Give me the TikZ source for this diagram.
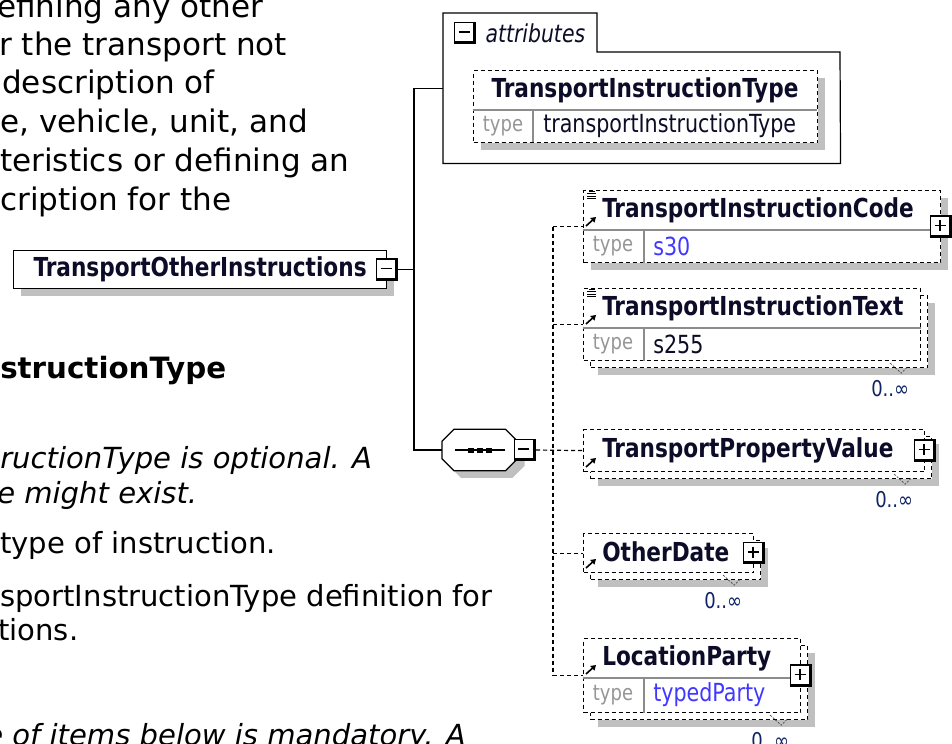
\documentclass[tikz,border=0pt]{standalone}
\usepackage{fontspec}
\setmainfont{DejaVu Sans}
\newfontfamily\schemafont[FakeStretch=0.92]{DejaVu Sans Condensed}
\usepackage{tikz}
\usetikzlibrary{arrows.meta, shadows, positioning}
\definecolor{encreNom}{RGB}{12, 12, 40}
\definecolor{encreType}{RGB}{150, 150, 150}
\definecolor{bleuType}{RGB}{64, 56, 255}
\definecolor{encreCard}{RGB}{16, 36, 100}
\definecolor{gris}{RGB}{192, 192, 192}
\definecolor{sepGris}{RGB}{140, 140, 140}
\newlength\pix
\setlength\pix{0.75pt}
\tikzset{
  lien/.style={draw=black, line width=0.9pt},
  lienopt/.style={lien, dash pattern=on 3pt off 2.25pt},
  ombrage/.style={drop shadow={shadow xshift=#1\pix, shadow yshift=-#1\pix, fill=gris, opacity=1}},
  ombrage/.default=7,
  boite/.style={draw=black, fill=white, line width=0.9pt, inner sep=0pt, anchor=north west, ombrage},
  boiteopt/.style={boite, dash pattern=on 3pt off 2.25pt},
  boiterep/.style={boiteopt, ombrage=14, copy shadow={shadow xshift=7\pix, shadow yshift=-7\pix, draw=black, fill=white, line width=0.9pt, dash pattern=on 3pt off 2.25pt}},
  separ/.style={draw=sepGris, line width=0.9pt},
  bouton/.style={draw=black, fill=white, line width=1.1pt, minimum size=21\pix, inner sep=0pt},
  moins/.style={bouton, path picture={
      \draw[line width=5\pix] (path picture bounding box.north east) -- (path picture bounding box.south east) -- (path picture bounding box.south west);
      \draw[line width=1.5\pix] ([xshift=4\pix, yshift=1\pix]path picture bounding box.west) -- ([xshift=-6\pix, yshift=1\pix]path picture bounding box.east);}},
  plus/.style={bouton, path picture={
      \draw[line width=5\pix] (path picture bounding box.north east) -- (path picture bounding box.south east) -- (path picture bounding box.south west);
      \draw[line width=1.5\pix] ([xshift=4\pix, yshift=1\pix]path picture bounding box.west) -- ([xshift=-6\pix, yshift=1\pix]path picture bounding box.east);
      \draw[line width=1.5\pix] ([xshift=-1\pix, yshift=-4\pix]path picture bounding box.north) -- ([xshift=-1\pix, yshift=6\pix]path picture bounding box.south);}},
  nom/.style={inner sep=0pt, text=encreNom, font=\schemafont\fontsize{19.6}{23}\selectfont\bfseries},
  typelbl/.style={inner sep=0pt, text=encreType, font=\schemafont\fontsize{16.3}{19}\selectfont},
  valeur/.style={inner sep=0pt, anchor=west, text=encreNom, font=\schemafont\fontsize{18.7}{22}\selectfont},
  card/.style={inner sep=0pt, text=encreCard, font=\schemafont\fontsize{16.3}{19}\selectfont},
  fleche/.style={line width=1.6\pix, -{Triangle[length=3.75pt, width=4.5pt]}},
  pli/.style={draw=black!70, line width=0.75\pix, dash pattern=on 2\pix off 1.5\pix},
  page/.style={anchor=base west, inner sep=0pt, font=\fontsize{23.3}{28}\selectfont},
  pageb/.style={anchor=base west, inner sep=0pt, font=\fontsize{21.8}{26}\selectfont}
}

\begin{document}
\begin{tikzpicture}[x=0.75pt, y=-0.75pt]
  \useasboundingbox (0,0) rectangle (952,743);
  \clip (0,0) rectangle (952,743);

  % Texte de la page
  \node[page] (t1) at (-3,17) {efining any other};
  \node[page] (t2) at (-1,55) {r the transport not};
  \node[page] (t3) at (2,93) {description of};
  \node[page] (t4) at (0,132) {e, vehicle, unit, and};
  \node[page] (t5) at (0,171) {teristics or defining an};
  \node[page] (t6) at (0,210) {cription for the};
  \node[pageb, font=\fontsize{22}{26}\selectfont\bfseries] (t7) at (0,378) {structionType};
  \node[pageb, font=\fontsize{21.8}{26}\selectfont\itshape] (t8) at (0,468) {ructionType is optional. A};
  \node[pageb, font=\fontsize{21.8}{26}\selectfont\itshape] (t9) at (-3,503) {e might exist.};
  \node[pageb] (t10) at (0,553) {type of instruction.};
  \node[pageb] (t11) at (0,606) {sportInstructionType definition for};
  \node[pageb] (t12) at (-2,640) {tions.};
  \node[pageb, font=\fontsize{21.8}{26}\selectfont\itshape] (t13) at (-15,745) {e of items below is mandatory. A};

  % Racine
  \node[boite, minimum width=373\pix, minimum height=38\pix, text=encreNom,
        font=\schemafont\fontsize{19.6}{23}\selectfont\bfseries] (root) at (13,250) {TransportOtherInstructions};
  \node[moins] (rootbtn) at (root.east) {};

  % Attributs
  \node[anchor=north west, inner sep=0pt, minimum width=397\pix, minimum height=150\pix] (attrs) at (443,13) {};
  \draw[lien] (attrs.north west) -- (597,13) -- (597,52) -- (840,52) -- (attrs.south east) -- (attrs.south west) -- cycle;
  \node[moins] (attrbtn) at (465,33) {};
  \node[nom, font=\schemafont\fontsize{18.5}{22}\selectfont\itshape, right=9\pix of attrbtn] (attrlbl) {attributes};
  \node[boiteopt, minimum width=344\pix, minimum height=72\pix] (attrtype) at (473,70) {};
  \draw[separ] (473,110) -- (817,110);
  \draw[separ] (533,110) -- (533,142);
  \node[nom] (attrname) at (645,90) {TransportInstructionType};
  \node[typelbl] (attrtl) at (503,126) {type};
  \node[valeur] (attrval) at (543,126) {transportInstructionType};

  % Sequence
  \node[anchor=west, inner sep=0pt, minimum width=75\pix, minimum height=41\pix] (seq) at (442,450) {};
  \draw[lien, fill=white, ombrage] ([xshift=12\pix]seq.north west) -- ([xshift=-12\pix]seq.north east)
    -- ([yshift=-12\pix]seq.north east) -- ([yshift=12\pix]seq.south east) -- ([xshift=-12\pix]seq.south east)
    -- ([xshift=12\pix]seq.south west) -- ([yshift=12\pix]seq.south west) -- ([yshift=-12\pix]seq.north west) -- cycle;
  \draw[lien] ([xshift=13\pix]seq.west) -- ([xshift=-13\pix]seq.east);
  \foreach \dx in {-9,0,9}
    \fill ([xshift=\dx\pix]seq.center) +(-3,-2.5) rectangle +(3,2.5);
  \node[moins, anchor=west] (seqbtn) at ([xshift=-4\pix]seq.east) {};

  % Liens pleins
  \coordinate (tronc) at (414,270);
  \draw[lien] (rootbtn.east) -- (tronc |- rootbtn.east);
  \draw[lien] (attrs.west) -| (tronc) |- (seq.west);

  % Elements
  \node[boiteopt, minimum width=357\pix, minimum height=72\pix] (code) at (583,190) {};
  \node[boiterep, minimum width=337\pix, minimum height=72\pix] (instrtext) at (583,288) {};
  \node[boiterep, minimum width=341\pix, minimum height=42\pix] (propval) at (583,429) {};
  \node[boiterep, minimum width=170\pix, minimum height=39\pix] (date) at (583,533) {};
  \node[boiterep, minimum width=217\pix, minimum height=74\pix] (party) at (583,638) {};

  \node[nom, anchor=west] (codename) at (602,210) {TransportInstructionCode};
  \node[nom, anchor=west] (textname) at (602,308) {TransportInstructionText};
  \node[nom, anchor=west] (propname) at (602,450) {TransportPropertyValue};
  \node[nom, anchor=west] (datename) at (602,552) {OtherDate};
  \node[nom, anchor=west] (partyname) at (602,658) {LocationParty};

  \foreach \e in {code, instrtext, party} {
    \draw[separ] ([yshift=-40\pix]\e.north west) -- ([yshift=-40\pix]\e.north east);
    \draw[separ] ([xshift=61\pix, yshift=-40\pix]\e.north west) -- ([xshift=61\pix]\e.south west);
  }
  \node[typelbl] (codetl) at (613,246) {type};
  \node[valeur, text=bleuType] (codeval) at (653,246) {s30};
  \node[typelbl] (texttl) at (613,344) {type};
  \node[valeur] (textval) at (653,344) {s255};
  \node[typelbl] (partytl) at (613,695) {type};
  \node[valeur, text=bleuType] (partyval) at (653,695) {typedParty};

  % Petites icones
  \foreach \hb in {230, 328, 471, 572, 678}
    \draw[fleche] (586,\hb-4) -- (596,\hb-13);
  \foreach \top in {190, 288} {
    \draw[line width=1\pix] (589,\top+1) -- (595,\top+1);
    \foreach \k in {1,2,3}
      \draw[line width=1\pix] (587,\top+1+2.5*\k) -- (596,\top+1+2.5*\k);
  }
  \foreach \e in {instrtext, propval, date, party} {
    \draw[pli] ([xshift=-31\pix, yshift=-2\pix]\e.south east) -- ++(11,10) -- ++(6,-6);
    \node[card] (\e card) at ([xshift=-31\pix, yshift=-27\pix]\e.south east) {0..∞};
  }
  \foreach \e in {code, propval, date, party}
    \node[plus] (\e btn) at (\e.east) {};

  % Liens optionnels
  \coordinate (epine) at (553,450);
  \draw[lienopt] (epine |- code.west) -- (epine |- party.west);
  \foreach \e in {code, instrtext, date, party}
    \draw[lienopt] (epine |- \e.west) -- (\e.west);
  \draw[lienopt] (seqbtn.east) -- (propval.west);
\end{tikzpicture}
\end{document}
